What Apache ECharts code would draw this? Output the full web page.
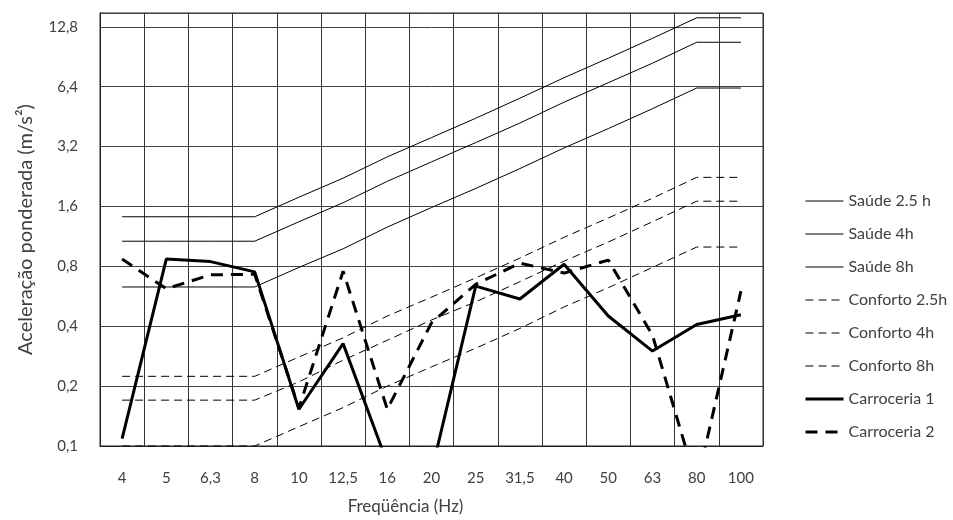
<!DOCTYPE html>
<html>
<head>
<meta charset="utf-8">
<script src="https://cdn.jsdelivr.net/npm/echarts@6/dist/echarts.min.js"></script>
<style>html,body{margin:0;padding:0;background:#fff}#c{width:953px;height:520px}</style>
</head>
<body>
<div id="c"></div>
<script>
const categories = ['4','5','6,3','8','10','12,5','16','20','25','31,5','40','50','63','80','100'];
const yTickLabels = ['0,1','0,2','0,4','0,8','1,6','3,2','6,4','12,8'];
const saude25 = [1.42,1.42,1.42,1.42,1.78,2.22,2.84,3.55,4.44,5.6,7.1,8.9,11.2,14.2,14.2];
const saude4  = [1.07,1.07,1.07,1.07,1.34,1.67,2.14,2.68,3.35,4.2,5.35,6.7,8.4,10.7,10.7];
const saude8  = [0.63,0.63,0.63,0.63,0.79,0.98,1.26,1.58,1.97,2.48,3.15,3.94,4.96,6.3,6.3];
const conf25  = [0.224,0.224,0.224,0.224,0.28,0.35,0.45,0.56,0.7,0.88,1.12,1.4,1.76,2.24,2.24];
const conf4   = [0.17,0.17,0.17,0.17,0.21,0.27,0.34,0.43,0.53,0.67,0.85,1.06,1.34,1.7,1.7];
const conf8   = [0.1,0.1,0.1,0.1,0.125,0.156,0.2,0.25,0.31,0.39,0.5,0.625,0.79,1.0,1.0];
const carr1   = [0.109,0.87,0.845,0.75,0.153,0.327,0.082,0.074,0.636,0.548,0.82,0.45,0.30,0.408,0.457];
const carr2   = [0.87,0.617,0.725,0.73,0.155,0.756,0.153,0.416,0.65,0.83,0.74,0.86,0.36,0.064,0.6];
const seriesNames = ['Saúde 2.5 h','Saúde 4h','Saúde 8h','Conforto 2.5h','Conforto 4h','Conforto 8h','Carroceria 1','Carroceria 2'];

const BASE = 0.1;
const toAxis = arr => arr.map(v => Math.log2(v / BASE));
const FONT = 'Lato';
const TXT = '#404040';

const styles = [
  [1, 'solid'], [1, 'solid'], [1, 'solid'],
  [1, [8,5]], [1, [8,5]], [1, [8,5]],
  [3, 'solid'], [3, [12,8]]
];
const datasets = [saude25, saude4, saude8, conf25, conf4, conf8, carr1, carr2];

const series = seriesNames.map((name, i) => ({
  name, type: 'line', data: toAxis(datasets[i]), symbol: 'none', clip: true,
  lineStyle: { color: '#000', width: styles[i][0], type: styles[i][1] },
  itemStyle: { color: '#000' },
  emphasis: { disabled: true }, animation: false, z: styles[i][0] > 2 ? 5 : 3
}));

const legendData = seriesNames.map((name, i) => ({
  name, itemStyle: { opacity: 0 },
  lineStyle: { color: '#000', width: styles[i][0], type: styles[i][1] }
}));

const chart = echarts.init(document.getElementById('c'));
chart.setOption({
  animation: false,
  backgroundColor: '#fff',
  grid: { left: 100, right: 190, top: 13, bottom: 71, show: true, borderColor: '#222', borderWidth: 1 },
  xAxis: {
    type: 'category', data: categories, boundaryGap: true,
    name: 'Freqüência (Hz)', nameLocation: 'middle', nameGap: 52,
    nameTextStyle: { fontFamily: FONT, fontSize: 17, color: TXT, padding: [0, 52, 0, 0] },
    axisLine: { lineStyle: { color: '#222', width: 1 } },
    axisTick: { show: false },
    axisLabel: { interval: 0, margin: 25, fontFamily: FONT, fontSize: 15, color: TXT },
    splitLine: { show: true, interval: 0, lineStyle: { color: '#333', width: 1 } }
  },
  yAxis: {
    type: 'value', min: 0, max: 7.23, interval: 1,
    name: 'Aceleração ponderada (m/s²)', nameLocation: 'middle', nameGap: 64, nameRotate: 90,
    nameTextStyle: { fontFamily: FONT, fontSize: 20, color: TXT },
    axisLine: { show: true, lineStyle: { color: '#222', width: 1 } },
    axisTick: { show: false },
    showMaxLabel: false,
    axisLabel: { margin: 22, fontFamily: FONT, fontSize: 15, color: TXT,
      formatter: v => (Number.isInteger(v) && yTickLabels[v] !== undefined) ? yTickLabels[v] : '' },
    splitLine: { show: true, lineStyle: { color: '#444', width: 1 } }
  },
  legend: {
    orient: 'vertical', left: 799, top: 187, itemWidth: 38, itemHeight: 14, itemGap: 15,
    itemStyle: { opacity: 0 },
    textStyle: { fontFamily: FONT, fontSize: 16, color: TXT, lineHeight: 18 },
    selectedMode: false,
    data: legendData
  },
  series
});
</script>
</body>
</html>
